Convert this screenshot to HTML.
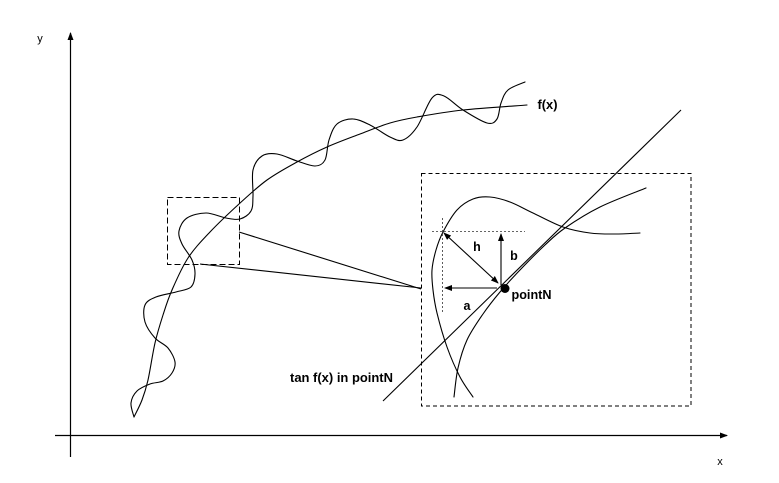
<!DOCTYPE html>
<html><head><meta charset="utf-8"><style>
html,body{margin:0;padding:0;background:#fff;}
svg{display:block;}
text{font-family:"Liberation Sans",Arial,sans-serif;fill:#000;}
</style></head><body>
<svg id="s" width="779" height="483" viewBox="0 0 779 483" xmlns="http://www.w3.org/2000/svg">
<defs>
<marker id="ah" markerWidth="8" markerHeight="6" refX="7" refY="3" orient="auto" markerUnits="userSpaceOnUse">
<path d="M0,0 L8,3 L0,6 z" fill="#000"/>
</marker>
<marker id="ahs" markerWidth="8" markerHeight="6" refX="1" refY="3" orient="auto" markerUnits="userSpaceOnUse">
<path d="M8,0 L0,3 L8,6 z" fill="#000"/>
</marker>
</defs>
<rect width="779" height="483" fill="#fff"/>
<!-- axes -->
<line x1="70.5" y1="457" x2="70.5" y2="33" stroke="#000" stroke-width="1.2" marker-end="url(#ah)"/>
<line x1="55" y1="435.5" x2="727" y2="435.5" stroke="#000" stroke-width="1.2" marker-end="url(#ah)"/>
<text x="40" y="42" font-size="11" text-anchor="middle">y</text>
<text x="720" y="465" font-size="11" text-anchor="middle">x</text>

<!-- curves (polyline fallback, replaced by smooth paths) -->
<g fill="none" stroke="#000" stroke-width="1.1" stroke-linejoin="round" stroke-linecap="round" id="curves">
<polyline class="c" points="134,417 131,403 137,391 150,384 163,381 172,373 175,362 168,348 155,338 145,322 145,305 156,297 176,292 191,287 195,274 192,260 182,244 179,231 187,218 206,213 226,218 240,219 251,211 253,196 253,170 262,156 277,154 297,161 315,166 325,160 329,140 337,124 353,119 370,125 390,137 403,140 417,127 432,98 444,96 463,110 487,123 497,119 501,103 508,90 525,82"/>
<polyline class="c" points="134,417 142,400 148,380 155,343 163,315 172,290 188,258 210,232 239,204 267,180 297,162 327,147 360,134 390,123 417,117 463,110 527,105"/>
<polyline class="c" points="473,397 460,377 447,347 437,313 433,290 432,270 436,250 443,232 457,210 473,199 490,197 510,202 533,213 563,227 590,233 615,234 640,233"/>
<polyline class="c" points="454,397 458,368 467,340 483,314 500,292 520,270 545,245 565,228 600,207 646,188"/>
</g>

<!-- small dashed box -->
<rect x="167.5" y="197.5" width="72" height="67" fill="none" stroke="#000" stroke-width="1" stroke-dasharray="6,3"/>
<!-- connector lines -->
<line x1="239" y1="232" x2="421" y2="289" stroke="#000" stroke-width="1.1"/>
<line x1="200" y1="264" x2="421" y2="288" stroke="#000" stroke-width="1.1"/>
<!-- big dashed box -->
<rect x="421.5" y="173.5" width="269.5" height="232.5" fill="none" stroke="#000" stroke-width="1" stroke-dasharray="4,3"/>

<!-- tangent -->
<line x1="383" y1="401" x2="681" y2="110" stroke="#000" stroke-width="1.1"/>

<!-- dotted guides -->
<line x1="432" y1="231.5" x2="525" y2="231.5" stroke="#333" stroke-width="0.8" stroke-dasharray="2,2"/>
<line x1="442.5" y1="218" x2="442.5" y2="312" stroke="#333" stroke-width="0.8" stroke-dasharray="2,2"/>

<!-- arrows -->
<line x1="444" y1="233" x2="498" y2="283" stroke="#000" stroke-width="1.1" marker-start="url(#ahs)" marker-end="url(#ah)"/>
<line x1="501" y1="285" x2="501" y2="234" stroke="#000" stroke-width="1.1" marker-end="url(#ah)"/>
<line x1="497" y1="288" x2="445" y2="288" stroke="#000" stroke-width="1.1" marker-end="url(#ah)"/>

<!-- pointN dot -->
<circle cx="505" cy="288.5" r="4.5" fill="#000"/>

<!-- labels -->
<text x="537.5" y="109" font-size="12.5" font-weight="bold" textLength="20" lengthAdjust="spacingAndGlyphs">f(x)</text>
<text x="511.5" y="299" font-size="12.5" font-weight="bold" textLength="40" lengthAdjust="spacingAndGlyphs">pointN</text>
<text x="290" y="382" font-size="12.5" font-weight="bold" textLength="103" lengthAdjust="spacingAndGlyphs">tan f(x) in pointN</text>
<text x="477" y="251" font-size="12.5" font-weight="bold" text-anchor="middle">h</text>
<text x="514" y="260" font-size="12.5" font-weight="bold" text-anchor="middle">b</text>
<text x="467" y="310" font-size="12.5" font-weight="bold" text-anchor="middle">a</text>
</svg>
<script>
(function(){
  var ns="http://www.w3.org/2000/svg";
  var pls=document.querySelectorAll("#curves polyline.c");
  for(var k=0;k<pls.length;k++){
    var pl=pls[k];
    var raw=pl.getAttribute("points").trim().split(/\s+/);
    var p=raw.map(function(s){var a=s.split(",");return [parseFloat(a[0]),parseFloat(a[1])];});
    var d="M"+p[0][0]+","+p[0][1];
    for(var i=0;i<p.length-1;i++){
      var p0=p[i>0?i-1:i],p1=p[i],p2=p[i+1],p3=p[i+2<p.length?i+2:i+1];
      var c1x=p1[0]+(p2[0]-p0[0])/6,c1y=p1[1]+(p2[1]-p0[1])/6;
      var c2x=p2[0]-(p3[0]-p1[0])/6,c2y=p2[1]-(p3[1]-p1[1])/6;
      d+=" C"+c1x.toFixed(2)+","+c1y.toFixed(2)+" "+c2x.toFixed(2)+","+c2y.toFixed(2)+" "+p2[0]+","+p2[1];
    }
    var path=document.createElementNS(ns,"path");
    path.setAttribute("d",d);
    pl.parentNode.replaceChild(path,pl);
  }
})();
</script>
</body></html>
